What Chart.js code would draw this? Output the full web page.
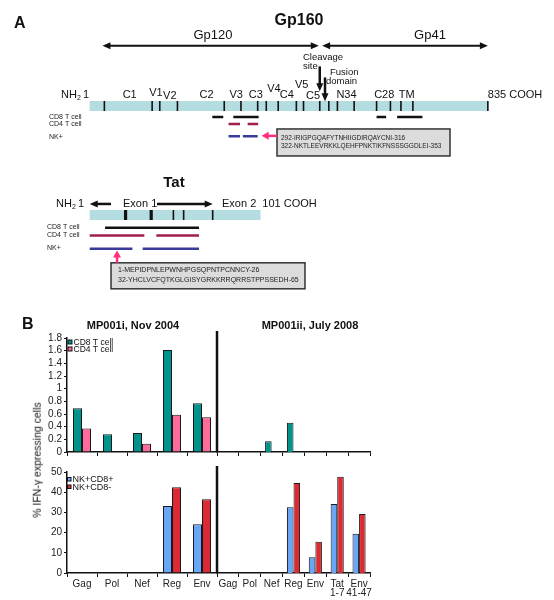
<!DOCTYPE html>
<html>
<head>
<meta charset="utf-8">
<script src="https://cdn.jsdelivr.net/npm/chart.js@4.4.0/dist/chart.umd.min.js"></script>
<style>
  body { margin: 0; background: #fff; }
  #page { position: relative; width: 554px; height: 600px; overflow: hidden; font-family: Arial, "Liberation Sans", sans-serif; }
  canvas { position: absolute; }
  .txt { position: absolute; line-height: 1; white-space: nowrap; color: #111; }
</style>
</head>
<body>
<div id="page">
  <canvas id="gp160" width="554" height="165" style="left:0;top:0"></canvas>
  <canvas id="tat" width="554" height="135" style="left:0;top:165px"></canvas>
  <canvas id="topL" width="222" height="140" style="left:0;top:320px"></canvas>
  <canvas id="topR" width="162" height="140" style="left:215px;top:320px"></canvas>
  <canvas id="botL" width="222" height="140" style="left:0;top:460px"></canvas>
  <canvas id="botR" width="162" height="140" style="left:215px;top:460px"></canvas>

  <div class="txt" style="left:22px;top:315.5px;font-size:16px;font-weight:bold">B</div>
  <div class="txt" style="left:133px;top:319.7px;font-size:11px;font-weight:bold;transform:translateX(-50%)">MP001i, Nov 2004</div>
  <div class="txt" style="left:310px;top:319.7px;font-size:11px;font-weight:bold;transform:translateX(-50%)">MP001ii, July 2008</div>
  <div class="txt" style="left:37px;top:460px;font-size:10.5px;transform:translate(-50%,-50%) rotate(-90deg)">% IFN-γ expressing cells</div>
</div>

<script>
// ---- panel A data (amino-acid positions) ----
const gp160Length = 835;
const gpTickAA = [32, 132, 148, 185, 283, 318, 353, 371, 396, 434, 449, 483, 502, 520, 555, 602, 631, 653, 678, 835];
const gpRegionNames = ['C1', 'V1', 'V2', 'C2', 'V3', 'C3', 'V4', 'C4', 'V5', 'C5', 'N34', 'C28', 'TM'];
const gpRegionAA = [85, 140, 169, 246, 308, 349, 387, 414, 445, 469, 539, 618, 665];
const gpCD8 = [[258, 281], [302, 355], [602, 622], [645, 698]];
const gpCD4 = [[292, 316], [332, 354]];
const gpNK = [[292, 316], [322, 353]];
const gp120Span = [28, 481];
const gp41Span = [488, 835];
const cleavageAA = 483;
const fusionAA = 494;
const gpPeptides = ['292-IRIGPGQAFYTNHIIGDIRQAYCNI-316', '322-NKTLEEVRKKLQEHFPNKTIKFNSSSGGDLEI-353'];

const tatLength = 101;
const tatTickAA = [22, 37, 50, 56, 73];
const tatCD8 = [[10, 65]];
const tatCD4 = [[1, 33], [40, 65]];
const tatNK = [[1, 26], [32, 65]];
const exon1Span = [1, 73];
const tatArrowAA = 17;
const tatPeptides = ['1-MEPIDPNLEPWNHPGSQPNTPCNNCY-26', '32-YHCLVCFQTKGLGISYGRKKRRQRRSTPPSSEDH-65'];

const responseNames = ['CD8 T cell', 'CD4 T cell', 'NK+'];

// ---- panel B data ----
const catsNov2004 = ['Gag', 'Pol', 'Nef', 'Reg', 'Env'];
const catsJul2008 = ['Gag', 'Pol', 'Nef', 'Reg', 'Env', ['Tat', '1-7'], ['Env', '41-47']];
const cd8Nov2004 = [0.69, 0.28, 0.30, 1.61, 0.77];
const cd4Nov2004 = [0.37, null, 0.13, 0.59, 0.55];
const cd8Jul2008 = [null, null, 0.17, 0.46, null, null, null];
const cd4Jul2008 = [null, null, null, null, null, null, null];
const nkCd8posNov2004 = [null, null, null, 33.2, 24.1];
const nkCd8negNov2004 = [null, null, null, 42.4, 36.5];
const nkCd8posJul2008 = [null, null, null, 32.5, 7.8, 34.2, 19.4];
const nkCd8negJul2008 = [null, null, null, 44.6, 15.5, 47.6, 29.2];
const tTicksTop = [0, 0.2, 0.4, 0.6, 0.8, 1, 1.2, 1.4, 1.6, 1.8];
const tTicksBottom = [0, 10, 20, 30, 40, 50];

const FONT = 'Arial, "Liberation Sans", sans-serif';
const colors = { cd8: '#00938c', cd4: '#ff6b9a', nkPos: '#6aa6f7', nkNeg: '#dc2a35',
  band: '#b4dde1', epCD8: '#111', epCD4: '#a01f4f', epNK: '#3a3a9a', pink: '#ff2d80' };

// ---- helpers ----
function label(ctx, s, x, y, size, o = {}) {
  ctx.save();
  ctx.font = (o.bold ? 'bold ' : '') + size + 'px ' + FONT;
  ctx.fillStyle = o.color || '#111';
  ctx.textAlign = o.align || 'left';
  ctx.textBaseline = 'alphabetic';
  ctx.fillText(s, x, y);
  const w = ctx.measureText(s).width;
  ctx.restore();
  return w;
}
function head(ctx, x, y, ang, len, half, color) {
  ctx.save();
  ctx.translate(x, y); ctx.rotate(ang);
  ctx.beginPath(); ctx.moveTo(0, 0); ctx.lineTo(-len, -half); ctx.lineTo(-len, half); ctx.closePath();
  ctx.fillStyle = color; ctx.fill();
  ctx.restore();
}
function arrow(ctx, x1, y1, x2, y2, o = {}) {
  const len = o.len || 8, half = o.half || 3.5, color = o.color || '#111';
  const ang = Math.atan2(y2 - y1, x2 - x1), c = Math.cos(ang), s = Math.sin(ang);
  ctx.save();
  ctx.strokeStyle = color; ctx.lineWidth = o.width || 2;
  ctx.beginPath();
  ctx.moveTo(o.both ? x1 + c * len * 0.8 : x1, o.both ? y1 + s * len * 0.8 : y1);
  ctx.lineTo(x2 - c * len * 0.8, y2 - s * len * 0.8);
  ctx.stroke();
  ctx.restore();
  head(ctx, x2, y2, ang, len, half, color);
  if (o.both) head(ctx, x1, y1, ang + Math.PI, len, half, color);
}
function nh2(ctx, x, y) {
  const w = label(ctx, 'NH', x, y, 11);
  label(ctx, '2', x + w, y + 1.5, 7);
}
function segData(segs, y) {
  const out = [];
  segs.forEach(([a, b]) => out.push({ x: a, y }, { x: b, y }, { x: b, y: null }));
  return out;
}
function segSet(segs, y, color) {
  return { data: segData(segs, y), borderColor: color, borderWidth: 2.5, borderCapStyle: 'butt', pointRadius: 0, spanGaps: false, order: 1 };
}
function tickSet(list, y, width) {
  return { data: list.map(a => ({ x: a, y })), showLine: false, pointStyle: 'line', pointRotation: 90,
    pointRadius: 5, pointBorderColor: '#111', pointBorderWidth: width, order: 0 };
}
function bandSet(len, y) {
  return { data: [{ x: 1, y }, { x: len, y }], borderColor: colors.band, borderWidth: 10, borderCapStyle: 'butt', pointRadius: 0, order: 5 };
}
function diagram(id, datasets, px0, px1, aa1, height, plugin) {
  const per = (px1 - px0) / (aa1 - 1);
  const min = 1 - px0 / per;
  return new Chart(document.getElementById(id), {
    type: 'line',
    data: { datasets },
    options: {
      responsive: false, animation: false, events: [],
      layout: { padding: 0 },
      plugins: { legend: { display: false }, tooltip: { enabled: false } },
      scales: {
        x: { type: 'linear', min, max: min + 554 / per, display: false },
        y: { type: 'linear', min: 0, max: height, reverse: true, display: false }
      }
    },
    plugins: [plugin]
  });
}

// ---- Gp160 diagram ----
const gpY = { arrow: 42.5, regions: 99.5, bar: 108, cd8: 120, cd4: 127.5, nk: 141 };
const gpRaise = { V1: 2, V4: 7, V5: 10.5 };
diagram('gp160', [
  bandSet(gp160Length, gpY.bar),
  tickSet(gpTickAA, gpY.bar, 1.6),
  segSet(gpCD8, gpY.cd8, colors.epCD8),
  segSet(gpCD4, gpY.cd4, colors.epCD4),
  segSet(gpNK, gpY.nk, colors.epNK)
], 85, 493, gp160Length, 165, {
  id: 'gpDecor',
  afterDatasetsDraw(chart) {
    const ctx = chart.ctx, X = a => chart.scales.x.getPixelForValue(a), Y = v => chart.scales.y.getPixelForValue(v);
    label(ctx, 'A', 14, Y(23), 16, { bold: true });
    label(ctx, 'Gp160', 299, Y(20.5), 16, { bold: true, align: 'center' });
    arrow(ctx, X(gp120Span[0]), Y(gpY.arrow), X(gp120Span[1]), Y(gpY.arrow), { both: true });
    arrow(ctx, X(gp41Span[0]), Y(gpY.arrow), X(gp41Span[1]), Y(gpY.arrow), { both: true });
    label(ctx, 'Gp120', 213, Y(35.5), 13, { align: 'center' });
    label(ctx, 'Gp41', 430, Y(35.5), 13, { align: 'center' });
    label(ctx, 'Cleavage', 303, Y(57.5), 9.5);
    label(ctx, 'site', 303, Y(68), 9.5);
    label(ctx, 'Fusion', 330, Y(74), 9.5);
    label(ctx, 'domain', 326, Y(84.5), 9.5);
    arrow(ctx, X(cleavageAA), Y(65), X(cleavageAA), Y(92), { width: 2.5 });
    arrow(ctx, X(fusionAA), Y(77), X(fusionAA), Y(103), { width: 2.5 });
    nh2(ctx, 61, Y(gpY.regions));
    label(ctx, '1', 83, Y(gpY.regions), 11);
    gpRegionNames.forEach((n, i) => label(ctx, n, X(gpRegionAA[i]), Y(gpY.regions - (gpRaise[n] || 0) + (n === 'V2' || n === 'C5' ? 0.5 : 0)), 11, { align: 'center' }));
    label(ctx, '835 COOH', X(gp160Length), Y(gpY.regions), 11);
    [gpY.cd8, gpY.cd4, gpY.nk].forEach((y, i) => label(ctx, responseNames[i], 49, Y(y + 2.5), 7, { color: '#222' }));
    // peptide box
    const bx = 277, by = Y(133), bw = 173, bh = 27;
    ctx.save();
    ctx.fillStyle = '#dcdcdc'; ctx.fillRect(bx, by, bw, bh);
    ctx.strokeStyle = '#333'; ctx.lineWidth = 1.5; ctx.strokeRect(bx, by, bw, bh);
    ctx.restore();
    gpPeptides.forEach((p, i) => label(ctx, p, bx + 4, Y(144.6 + i * 9), 6.5, { color: '#222' }));
    arrow(ctx, bx, Y(gpY.nk - 0.5), X(gpNK[1][1]) + 4, Y(gpY.nk - 0.5), { color: colors.pink, width: 2.5, len: 7, half: 4 });
  }
});

// ---- Tat diagram ----
const tatY = { title: 15.5, exon: 35, text: 39, bar: 47.5, cd8: 62, cd4: 71, nk: 86 };
diagram('tat', [
  bandSet(tatLength, tatY.bar),
  Object.assign(tickSet(tatTickAA, tatY.bar, 1.6), { pointBorderWidth: c => c.dataIndex < 2 ? 3.2 : 1.6 }),
  segSet(tatCD8, tatY.cd8, colors.epCD8),
  segSet(tatCD4, tatY.cd4, colors.epCD4),
  segSet(tatNK, tatY.nk, colors.epNK)
], 84, 260, tatLength, 135, {
  id: 'tatDecor',
  afterDatasetsDraw(chart) {
    const ctx = chart.ctx, X = a => chart.scales.x.getPixelForValue(a), Y = v => chart.scales.y.getPixelForValue(v);
    label(ctx, 'Tat', 174, Y(tatY.title), 15, { bold: true, align: 'center' });
    nh2(ctx, 56, Y(tatY.text));
    label(ctx, '1', 78, Y(tatY.text), 11);
    arrow(ctx, 111, Y(tatY.exon), X(exon1Span[0]), Y(tatY.exon), { width: 2.5 });
    label(ctx, 'Exon 1', 123, Y(tatY.text), 11);
    arrow(ctx, 157, Y(tatY.exon), X(exon1Span[1]), Y(tatY.exon), { width: 2.5 });
    label(ctx, 'Exon 2  101 COOH', 222, Y(tatY.text), 11);
    [tatY.cd8, tatY.cd4, tatY.nk].forEach((y, i) => label(ctx, responseNames[i], 47, Y(y + (i === 2 ? 1 : 1.5)), 7, { color: '#222' }));
    const bx = 111, by = Y(102), bw = 194, bh = 26;
    ctx.save();
    ctx.fillStyle = '#dcdcdc'; ctx.fillRect(bx, by, bw, bh);
    ctx.strokeStyle = '#333'; ctx.lineWidth = 1.5; ctx.strokeRect(bx, by, bw, bh);
    ctx.restore();
    tatPeptides.forEach((p, i) => label(ctx, p, bx + 7, Y(112.5 + i * 11), 7, { color: '#222' }));
    arrow(ctx, X(tatArrowAA), Y(102), X(tatArrowAA), Y(tatY.nk + 2), { color: colors.pink, width: 2.5, len: 7, half: 4 });
  }
});

// ---- Panel B bar charts ----
function legendPlugin(sets, dx, dy, step, size, box) {
  return {
    id: 'lg',
    afterDraw(chart) {
      const { ctx, chartArea: a } = chart;
      sets.forEach((s, i) => {
        const y = a.top + dy + i * step;
        ctx.save();
        ctx.fillStyle = s.color; ctx.fillRect(a.left + dx, y - box - 1, box, box);
        ctx.strokeStyle = '#111'; ctx.lineWidth = 1; ctx.strokeRect(a.left + dx, y - box - 1, box, box);
        ctx.restore();
        label(ctx, s.label, a.left + dx + box + 1.5, y, size, { color: '#111' });
      });
    }
  };
}
function dividerPlugin(ext) {
  return {
    id: 'div',
    afterDraw(chart) {
      const { ctx, chartArea: a } = chart;
      ctx.save();
      ctx.strokeStyle = '#111'; ctx.lineWidth = 2.5;
      ctx.beginPath(); ctx.moveTo(a.left, a.top - ext); ctx.lineTo(a.left, a.bottom); ctx.stroke();
      ctx.restore();
    }
  };
}
function barChart(id, cats, sets, o) {
  const y = {
    display: o.yAxis, min: 0, max: o.ticks[o.ticks.length - 1],
    afterBuildTicks: s => { s.ticks = o.ticks.map(v => ({ value: v })); },
    ticks: { font: { size: 10, family: FONT }, color: '#222', padding: 2, autoSkip: false, callback: v => String(v) },
    grid: { drawOnChartArea: false, tickLength: 3, color: '#111' },
    border: { color: '#111', width: 1.5 }
  };
  if (o.yAxis) y.afterFit = s => { s.width = 29; };
  return new Chart(document.getElementById(id), {
    type: 'bar',
    data: {
      labels: cats,
      datasets: sets.map(s => ({ label: s.label, data: s.data, backgroundColor: s.color, borderColor: '#1a1a1a',
        borderWidth: 1, categoryPercentage: 0.6, barPercentage: 1 }))
    },
    options: {
      responsive: false, animation: false, events: [],
      layout: { padding: o.padding },
      plugins: { legend: { display: false }, tooltip: { enabled: false } },
      scales: {
        x: {
          grid: { display: true, drawOnChartArea: false, tickLength: 4, color: '#111', lineWidth: 1, offset: true },
          border: { display: true, color: '#111', width: 1.5 },
          ticks: { display: o.xLabels, font: { size: 10, family: FONT, lineHeight: 0.95 }, color: '#222', padding: 2, maxRotation: 0, minRotation: 0, autoSkip: false },
          afterFit: s => { s.height = o.xHeight; }
        },
        y
      }
    },
    plugins: o.plugins || []
  });
}

const topSetsL = [{ label: 'CD8 T cell', data: cd8Nov2004, color: colors.cd8 }, { label: 'CD4 T cell', data: cd4Nov2004, color: colors.cd4 }];
const topSetsR = [{ label: 'CD8 T cell', data: cd8Jul2008, color: colors.cd8 }, { label: 'CD4 T cell', data: cd4Jul2008, color: colors.cd4 }];
const botSetsL = [{ label: 'NK+CD8+', data: nkCd8posNov2004, color: colors.nkPos }, { label: 'NK+CD8-', data: nkCd8negNov2004, color: colors.nkNeg }];
const botSetsR = [{ label: 'NK+CD8+', data: nkCd8posJul2008, color: colors.nkPos }, { label: 'NK+CD8-', data: nkCd8negJul2008, color: colors.nkNeg }];

barChart('topL', catsNov2004, topSetsL, { padding: { left: 38, top: 18, right: 5, bottom: 2 }, xHeight: 6, xLabels: false, yAxis: true, ticks: tTicksTop,
  plugins: [legendPlugin(topSetsL, 1, 7, 7, 8.5, 4)] });
barChart('topR', catsJul2008, topSetsR, { padding: { left: 2, top: 18, right: 7, bottom: 2 }, xHeight: 6, xLabels: false, yAxis: false, ticks: tTicksTop,
  plugins: [dividerPlugin(7)] });
barChart('botL', catsNov2004, botSetsL, { padding: { left: 38, top: 12, right: 5, bottom: 0 }, xHeight: 27, xLabels: true, yAxis: true, ticks: tTicksBottom,
  plugins: [legendPlugin(botSetsL, 0.5, 10, 7.5, 9, 3.5)] });
barChart('botR', catsJul2008, botSetsR, { padding: { left: 2, top: 12, right: 7, bottom: 0 }, xHeight: 27, xLabels: true, yAxis: false, ticks: tTicksBottom,
  plugins: [dividerPlugin(6)] });
</script>
</body>
</html>
